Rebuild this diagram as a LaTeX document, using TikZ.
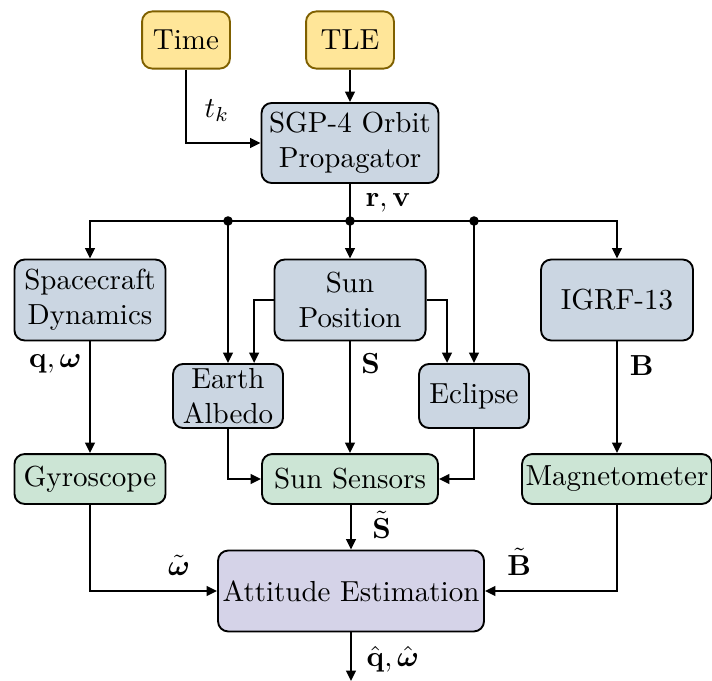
\documentclass[tikz,border=0pt]{standalone}
\usepackage{amsmath,amsbsy}
\usetikzlibrary{arrows.meta}
\definecolor{yel}{HTML}{FFE699}
\definecolor{yelb}{HTML}{7F6000}
\definecolor{blu}{HTML}{CBD6E2}
\definecolor{grn}{HTML}{CCE5D5}
\definecolor{pur}{HTML}{D5D3E8}
\tikzset{
  box/.style={draw=black,line width=0.65pt,rounded corners=3.5pt,align=center,inner sep=1pt},
  inbox/.style={box,fill=yel,draw=yelb,minimum width=30.3pt,minimum height=19.7pt},
  proc/.style={box,fill=blu},
  sens/.style={box,fill=grn,minimum height=17.2pt},
  est/.style={box,fill=pur},
  arr/.style={line width=0.8pt,-{Triangle[length=3.6pt,width=3.3pt]}},
  ln/.style={line width=0.8pt},
  dot/.style={circle,fill=black,inner sep=0pt,minimum size=3.3pt},
  lbl/.style={inner sep=0pt}
}
\begin{document}
\begin{tikzpicture}[x=0.3448pt,y=-0.3448pt]
\useasboundingbox (0,0) rectangle (712,681);
% nodes
\node[inbox] (time) at (186,40) {Time};
\node[inbox] (tle) at (350,40) {TLE};
\node[proc,minimum width=61pt,minimum height=27.6pt] (sgp) at (350,143) {SGP-4 Orbit\\Propagator};
\node[proc,minimum width=52.1pt,minimum height=27.9pt] (sc) at (90,300) {Spacecraft\\Dynamics};
\node[proc,minimum width=52.1pt,minimum height=27.9pt] (sun) at (350,300) {Sun\\Position};
\node[proc,minimum width=52.4pt,minimum height=27.9pt] (igrf) at (617,300) {IGRF-13};
\node[proc,minimum width=37.9pt,minimum height=22.1pt] (alb) at (228,396) {Earth\\Albedo};
\node[proc,minimum width=37.9pt,minimum height=22.1pt] (ecl) at (474,396) {Eclipse};
\node[sens,minimum width=52.1pt] (gyro) at (90,479) {Gyroscope};
\node[sens,minimum width=60.7pt] (ss) at (350,479) {Sun Sensors};
\node[sens,minimum width=65.5pt] (mag) at (617,479) {Magnetometer};
\node[est,minimum width=91.7pt,minimum height=27.9pt] (att) at (351,591) {Attitude Estimation};
% junctions
\node[dot] (bus) at (350,221) {};
\node[dot] (busL) at (228,221) {};
\node[dot] (busR) at (474,221) {};
\coordinate (out) at (351,681);
% connectors
\draw[arr] (time.south) |- (sgp.west) node[lbl,pos=0.28,right=6pt] {$t_k$};
\draw[arr] (tle) -- (sgp);
\draw[ln] (sgp) -- (bus.center) node[lbl,pos=0.5,right=5pt] {$\mathbf{r},\mathbf{v}$};
\draw[arr] (bus.center) -| (sc.north);
\draw[arr] (bus.center) -| (igrf.north);
\draw[arr] (bus.center) -- (sun);
\draw[arr] (busL.center) -- (alb);
\draw[arr] (busR.center) -- (ecl);
\draw[arr] (sun.west) -| ([xshift=9pt]alb.north);
\draw[arr] (sun.east) -| ([xshift=-9.3pt]ecl.north);
\draw[arr] (sc) -- (gyro) node[lbl,pos=0.2,left=2.5pt] {$\mathbf{q},\boldsymbol{\omega}$};
\draw[arr] (sun) -- (ss) node[lbl,pos=0.2,right=3.5pt] {$\mathbf{S}$};
\draw[arr] (igrf) -- (mag) node[lbl,pos=0.22,right=4pt] {$\mathbf{B}$};
\draw[arr] (alb.south) |- (ss.west);
\draw[arr] (ecl.south) |- (ss.east);
\draw[arr] (ss.south -| att.north) -- (att.north) node[lbl,pos=0.45,right=7pt] {$\tilde{\mathbf{S}}$};
\draw[arr] (gyro.south) |- (att.west) node[lbl,pos=0.85,above=5pt] {$\tilde{\boldsymbol{\omega}}$};
\draw[arr] (mag.south) |- (att.east) node[lbl,pos=0.87,above=5pt] {$\tilde{\mathbf{B}}$};
\draw[arr] (att) -- (out) node[lbl,pos=0.55,right=5pt] {$\hat{\mathbf{q}},\hat{\boldsymbol{\omega}}$};
\end{tikzpicture}
\end{document}
